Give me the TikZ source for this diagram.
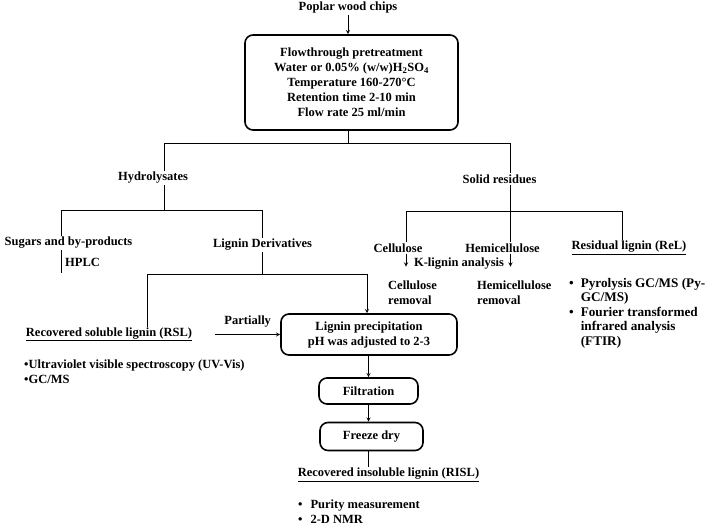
\documentclass[tikz,border=0pt]{standalone}
\usepackage{fontspec}
\setmainfont{Liberation Serif}
\usetikzlibrary{arrows, calc}

\begin{document}
\begin{tikzpicture}[x=1pt, y=1pt, node distance=45pt, every node/.style={font=\fontsize{12.5}{15}\selectfont\bfseries}]
% Styles
\tikzstyle{flowbox} = [rectangle, rounded corners=8pt, draw=black, line width=1.6pt, align=center, inner sep=2pt]
\tikzstyle{plain} = [align=center, inner sep=1pt]
\tikzstyle{link} = [line width=0.9pt]
\tikzstyle{arrow} = [line width=0.9pt,->,>=stealth]

\useasboundingbox (0,0) rectangle (709,529);

\node (chips) [plain] at (348,521) {Poplar wood chips};
\node (pretreat) [flowbox, minimum width=213pt, minimum height=95pt] at (351.5,446.5) {Flowthrough pretreatment\\ Water or 0.05\% (w/w)H\textsubscript{2}SO\textsubscript{4}\\ Temperature 160-270°C\\ Retention time 2-10 min\\ Flow rate 25 ml/min};

% Hydrolysates side
\node (hydro) [plain] at (153,351) {Hydrolysates};
\node (sugars) [plain] at (68.5,286) {Sugars and by-products};
\node (hplc) [plain] at (82.5,267) {HPLC};
\node (ligder) [plain] at (262.5,284) {Lignin Derivatives};
\node (rsl) [plain] at (109,194.5) {\underline{Recovered soluble lignin (RSL)}};
\node (uvvis) [plain, align=left, anchor=west] at (23,157) {\textbullet Ultraviolet visible spectroscopy (UV-Vis)\\ \textbullet GC/MS};

% Precipitation chain
\node (prec) [flowbox, minimum width=176pt, minimum height=41pt] at (369,194.5) {Lignin precipitation\\ pH was adjusted to 2-3};
\node (filt) [flowbox, minimum width=99pt, minimum height=26pt, below of=prec, yshift=-11.5pt, xshift=-0.5pt] {Filtration};
\node (freeze) [flowbox, minimum width=103pt, minimum height=28pt, below of=filt, xshift=3pt, yshift=-0.5pt] {Freeze dry};
\node (risl) [plain] at (388.5,54) {\underline{Recovered insoluble lignin (RISL)}};
\node (purity) [plain, anchor=west] at (297,15.5) {\begin{tabular}{@{}l@{\hspace{8pt}}l@{}} \textbullet & Purity measurement\\ \textbullet & 2-D NMR \end{tabular}};

% Solid residues side
\node (solid) [plain] at (499.5,350) {Solid residues};
\node (cellu) [plain] at (398,281) {Cellulose};
\node (hemi) [plain] at (502.5,281) {Hemicellulose};
\node (rel) [plain] at (629,281) {\underline{Residual lignin (ReL)}};
\node (klig) [plain] at (459,265) {K-lignin analysis};
\node (cellrem) [plain, align=left, anchor=west] at (387,236) {Cellulose\\ removal};
\node (hemirem) [plain, align=left, anchor=west] at (476,236) {Hemicellulose\\ removal};
\node (relan) [plain, anchor=west, font=\fontsize{13.2}{14.4}\selectfont\bfseries] at (568,215.5) {\begin{tabular}{@{}l@{\hspace{7pt}}l@{}} \textbullet & Pyrolysis GC/MS (Py-\\ & GC/MS)\\ \textbullet & Fourier transformed\\ & infrared analysis\\ & (FTIR)\end{tabular}};

\draw [arrow] (chips.south) -- (chips.south |- pretreat.north);
\draw [link] (pretreat.south -| chips) -- ++(0,-13) coordinate (split1);
\draw [link] ([xshift=11pt]hydro.north) |- (split1) -| ([xshift=11pt]solid.north);

\draw [link] ([xshift=11pt]hydro.south) -- ++(0,-26) coordinate (split2);
\draw [link] ([xshift=-7.5pt]sugars.north) |- (split2) -| (ligder.north);
\draw [link] ([xshift=-7.5pt]sugars.south) -- ([xshift=-7.5pt, yshift=-23pt]sugars.south);
\draw [link] (ligder.south) -- ++(0,-23) coordinate (split3);
\draw [link] ([xshift=38pt]rsl.north) |- (split3);
\draw [arrow] (split3) -| ([xshift=-2pt]prec.north);
\draw [arrow] ([xshift=22pt]rsl.east) -- node[above=4pt] {Partially} (rsl.east -| prec.west);

\draw [arrow] (filt.north |- prec.south) -- (filt.north);
\draw [arrow] (filt.south) -- (filt.south |- freeze.north);
\draw [link] (freeze.south -| filt) -- (filt |- risl.north);

\draw [link] ([xshift=11pt]solid.south) -- ++(0,-27) coordinate (split4);
\draw [link] ([xshift=8pt]cellu.north) |- (split4) -| ([xshift=-7pt]rel.north);
\draw [link] (split4) -- ([xshift=8pt]hemi.north);
\draw [arrow] ([xshift=8pt]cellu.south) -- ([xshift=8pt, yshift=-13pt]cellu.south);
\draw [arrow] ([xshift=8pt]hemi.south) -- ([xshift=8pt, yshift=-13pt]hemi.south);

\end{tikzpicture}
\end{document}
